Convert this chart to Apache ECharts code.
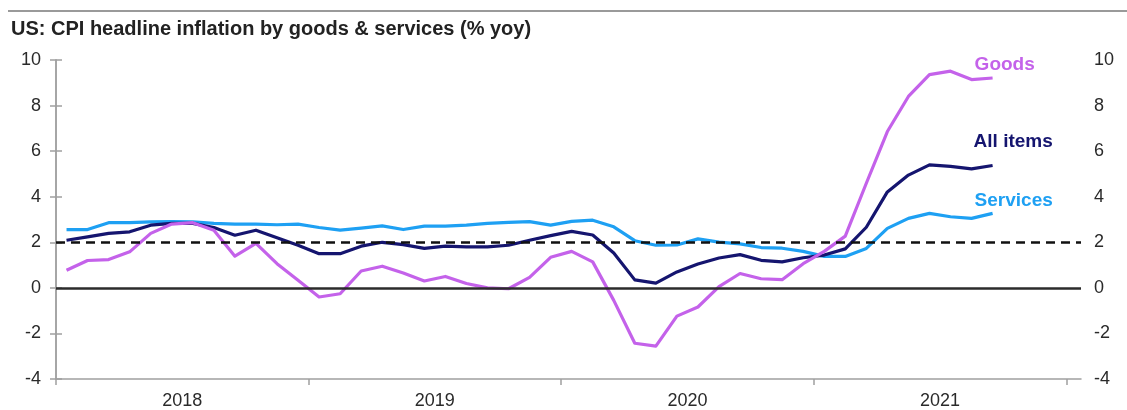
<!DOCTYPE html>
<html>
<head>
<meta charset="utf-8">
<script src="https://cdn.jsdelivr.net/npm/echarts@6/dist/echarts.min.js"></script>
<style>
html,body{margin:0;padding:0;background:#fff;}
#chart{width:1127px;height:410px;}
</style>
</head>
<body>
<div id="chart"></div>
<script>
// Monthly data, Jan 2018 .. Sep 2021 (% yoy)
const yearLabels = ['2018', '2019', '2020', '2021'];
const seriesNames = ['Goods', 'All items', 'Services'];
const goods = [
  0.77, 1.2, 1.24, 1.58, 2.39, 2.8, 2.86, 2.53, 1.39, 1.95, 1.06, 0.33,
  -0.4, -0.26, 0.74, 0.95, 0.65, 0.3, 0.5, 0.19, 0.0, -0.04, 0.46, 1.34,
  1.6, 1.14, -0.55, -2.43, -2.56, -1.24, -0.84, 0.05, 0.63, 0.4, 0.36, 1.06,
  1.6, 2.27, 4.59, 6.86, 8.4, 9.36, 9.51, 9.14, 9.21
];
const allItems = [
  2.09, 2.24, 2.39, 2.46, 2.75, 2.83, 2.83, 2.65, 2.31, 2.53, 2.2, 1.87,
  1.5, 1.5, 1.83, 2.0, 1.9, 1.73, 1.83, 1.8, 1.8, 1.87, 2.09, 2.29,
  2.48, 2.32, 1.53, 0.35, 0.21, 0.7, 1.05, 1.31, 1.46, 1.21, 1.14, 1.32,
  1.44, 1.71, 2.66, 4.21, 4.95, 5.4, 5.33, 5.22, 5.37
];
const services = [
  2.56, 2.56, 2.86, 2.86, 2.9, 2.91, 2.9, 2.83, 2.8, 2.8, 2.77, 2.8,
  2.65, 2.53, 2.62, 2.72, 2.56, 2.71, 2.71, 2.75, 2.83, 2.87, 2.91, 2.75,
  2.92, 2.97, 2.68, 2.07, 1.87, 1.88, 2.15, 2.01, 1.93, 1.77, 1.74, 1.6,
  1.38, 1.38, 1.73, 2.61, 3.05, 3.27, 3.12, 3.05, 3.27
];
const yearTickMonths = [0, 12, 24, 36, 48];
const yTicks = { min: -4, max: 10, interval: 2 };
const refLines = { zero: 0, target: 2 };

const toPts = arr => arr.map((v, i) => [i + 0.5, v]);

const FONT = '"Liberation Sans", Arial, Helvetica, sans-serif';
const colors = { goods: '#c462ea', all: '#15156f', services: '#1ea0f3' };

const chart = echarts.init(document.getElementById('chart'), null, { renderer: 'canvas' });

const yAxisBase = (pos, margin) => ({
  type: 'value',
  position: pos,
  min: yTicks.min, max: yTicks.max, interval: yTicks.interval,
  axisLine: { show: true, lineStyle: { color: '#a0a0a0', width: 1.5 } },
  axisTick: { show: true, length: 6, lineStyle: { color: '#a0a0a0', width: 1.5 } },
  axisLabel: { margin: margin, fontSize: 18, color: '#2a2a2a', fontFamily: FONT },
  splitLine: { show: false }
});

const lineSeries = (name, data, color, offset) => ({
  name: name,
  type: 'line',
  data: toPts(data),
  xAxisIndex: 0, yAxisIndex: 0,
  symbol: 'none',
  lineStyle: { color: color, width: 3.2, join: 'round' },
  itemStyle: { color: color },
  z: 3,
  endLabel: {
    show: true, formatter: '{a}', color: color, fontWeight: 'bold',
    fontSize: 19, fontFamily: FONT, offset: offset
  }
});

const option = {
  animation: false,
  backgroundColor: '#ffffff',
  title: {
    text: 'US: CPI headline inflation by goods & services (% yoy)',
    left: 6, top: 14,
    textStyle: { fontSize: 20, fontWeight: 'bold', color: '#222', fontFamily: FONT }
  },
  graphic: [{
    type: 'line', shape: { x1: 8, y1: 11, x2: 1127, y2: 11 },
    style: { stroke: '#9a9a9a', lineWidth: 2 }, silent: true
  }],
  grid: { left: 56, right: 46, top: 60, bottom: 31, containLabel: false },
  xAxis: [{
    type: 'value', position: 'bottom', min: 0, max: 48.7, interval: 12,
    axisLine: { show: true, onZero: false, lineStyle: { color: '#a0a0a0', width: 1.5 } },
    axisTick: { show: true, length: 6, customValues: yearTickMonths, lineStyle: { color: '#a0a0a0', width: 1.5 } },
    axisLabel: { show: false },
    splitLine: { show: false }
  }, {
    type: 'value', position: 'bottom', min: 0, max: 48.7, interval: 6,
    axisLine: { show: false, onZero: false },
    axisTick: { show: false },
    axisLabel: {
      margin: 13, fontSize: 18, color: '#2a2a2a', fontFamily: FONT,
      showMinLabel: false, showMaxLabel: false,
      formatter: v => (Math.round(v) % 12 === 6 ? yearLabels[(Math.round(v) - 6) / 12] : '')
    },
    splitLine: { show: false }
  }],
  yAxis: [yAxisBase('left', 15), yAxisBase('right', 13)],
  series: [
    lineSeries(seriesNames[2], services, colors.services, [-26, -13]),
    lineSeries(seriesNames[1], allItems, colors.all, [-27, -24]),
    lineSeries(seriesNames[0], goods, colors.goods, [-26, -13]),
    {
      type: 'line', data: [], xAxisIndex: 0, yAxisIndex: 0, silent: true, z: 2,
      markLine: {
        silent: true, symbol: ['none', 'none'], label: { show: false },
        data: [
          { yAxis: refLines.zero, lineStyle: { color: '#2b2b2b', width: 2.5, type: 'solid' } },
          { yAxis: refLines.target, lineStyle: { color: '#111', width: 2.6, type: [9, 6] } }
        ]
      }
    }
  ]
};
chart.setOption(option);
</script>
</body>
</html>
